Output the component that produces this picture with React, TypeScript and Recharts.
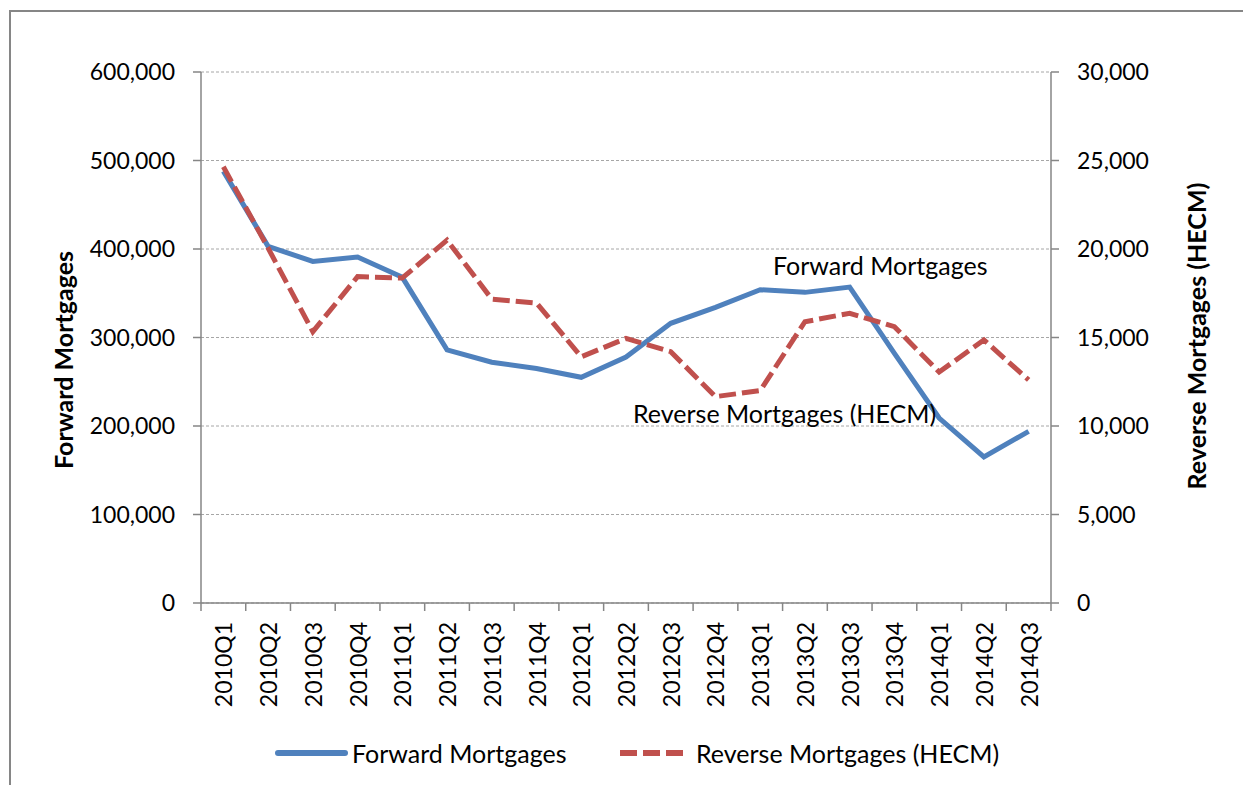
import React from 'react';
import { LineChart, Line, XAxis, YAxis, CartesianGrid, Legend } from 'recharts';

const quarters = [
  '2010Q1', '2010Q2', '2010Q3', '2010Q4',
  '2011Q1', '2011Q2', '2011Q3', '2011Q4',
  '2012Q1', '2012Q2', '2012Q3', '2012Q4',
  '2013Q1', '2013Q2', '2013Q3', '2013Q4',
  '2014Q1', '2014Q2', '2014Q3',
];

const forwardMortgages = [
  488000, 403000, 386000, 391000,
  368000, 286000, 272000, 265000,
  255000, 278000, 316000, 334000,
  354000, 351000, 357000, 282000,
  209000, 165000, 194000,
];

const reverseMortgages = [
  24650, 20050, 15330, 18440,
  18360, 20500, 17170, 16950,
  13910, 14950, 14200, 11660,
  12000, 15890, 16370, 15610,
  13050, 14860, 12600,
];

const leftTicks = [0, 100000, 200000, 300000, 400000, 500000, 600000];
const rightTicks = [0, 5000, 10000, 15000, 20000, 25000, 30000];

const data = quarters.map((q, i) => ({
  quarter: q,
  forward: forwardMortgages[i],
  reverse: reverseMortgages[i],
}));

const FONT = 'Lato, "Open Sans", sans-serif';
const BLUE = '#4f81bd';
const RED = '#c0504d';
const AXIS = '#868686';

const W = 1243;
const H = 785;
const PLOT_LEFT = 201;
const PLOT_RIGHT = 1051;
const PLOT_TOP = 72;
const PLOT_BOTTOM = 603;
const BAND = (PLOT_RIGHT - PLOT_LEFT) / quarters.length;

const fmt = (v: number) => v.toLocaleString('en-US');

// Excel puts the category ticks between the categories, not on them
const QuarterTick = ({ x, y, payload, index }: any) => {
  const lx = x - BAND / 2;
  return (
    <g>
      <line x1={lx} y1={y} x2={lx} y2={y + 8} stroke={AXIS} strokeWidth={1.5} />
      {index === quarters.length - 1 && (
        <line x1={x + BAND / 2} y1={y} x2={x + BAND / 2} y2={y + 8} stroke={AXIS} strokeWidth={1.5} />
      )}
      <text
        x={x}
        y={y + 19}
        transform={`rotate(-90, ${x}, ${y + 19})`}
        textAnchor="end"
        dominantBaseline="central"
        fill="#000"
        fontSize={23}
        fontFamily={FONT}
      >
        {payload.value}
      </text>
    </g>
  );
};

const LegendContent = () => (
  <div style={{ position: 'relative', width: W, height: 40, fontFamily: FONT, fontSize: 25 }}>
    <svg style={{ position: 'absolute', left: 0, top: 0 }} width={W} height={40}>
      <line x1={278} y1={20} x2={345} y2={20} stroke={BLUE} strokeWidth={6} strokeLinecap="round" />
      <line x1={620} y1={20} x2={684} y2={20} stroke={RED} strokeWidth={6} strokeDasharray="17 6" />
    </svg>
    <span style={{ position: 'absolute', left: 352, top: 20, transform: 'translateY(-50%)', whiteSpace: 'nowrap' }}>
      Forward Mortgages
    </span>
    <span style={{ position: 'absolute', left: 696, top: 20, transform: 'translateY(-50%)', whiteSpace: 'nowrap' }}>
      Reverse Mortgages (HECM)
    </span>
  </div>
);

const textStyle: React.CSSProperties = {
  position: 'absolute',
  fontFamily: FONT,
  fontSize: 25,
  color: '#000',
  whiteSpace: 'nowrap',
};

const App = () => {
  return (
    <div style={{ position: 'absolute', left: 0, top: 0, width: W, height: H, background: '#fff', overflow: 'hidden' }}>
      {/* chart frame, only its left and top edges fall inside the picture */}
      <div style={{ position: 'absolute', left: 9, top: 10, width: 1400, height: 1000, border: `2px solid ${AXIS}` }} />
      <div style={{ position: 'absolute', left: 0, top: 0 }}>
        <LineChart width={W} height={H} data={data} margin={{ top: PLOT_TOP, right: 0, bottom: 0, left: 0 }}>
          <CartesianGrid yAxisId="left" vertical={false} stroke="#a6a6a6" strokeDasharray="3 2" />
          <XAxis
            dataKey="quarter"
            height={H - PLOT_BOTTOM}
            padding={{ left: BAND / 2, right: BAND / 2 }}
            stroke={AXIS}
            strokeWidth={1.5}
            tickLine={false}
            tickSize={0}
            tickMargin={0}
            interval={0}
            tick={<QuarterTick />}
          />
          <YAxis
            yAxisId="left"
            width={PLOT_LEFT}
            domain={[0, 600000]}
            ticks={leftTicks}
            tickFormatter={fmt}
            stroke={AXIS}
            strokeWidth={1.5}
            tickSize={8}
            tickMargin={18}
            tick={{ fill: '#000', fontSize: 23, fontFamily: FONT }}
          />
          <YAxis
            yAxisId="right"
            orientation="right"
            width={W - PLOT_RIGHT}
            domain={[0, 30000]}
            ticks={rightTicks}
            tickFormatter={fmt}
            stroke={AXIS}
            strokeWidth={1.5}
            tickSize={8}
            tickMargin={18}
            tick={{ fill: '#000', fontSize: 23, fontFamily: FONT, textAnchor: 'start' }}
          />
          <Legend
            layout="horizontal"
            verticalAlign="middle"
            align="center"
            wrapperStyle={{ top: 733, left: 0, width: W }}
            content={<LegendContent />}
          />
          <Line
            yAxisId="left"
            dataKey="forward"
            name="Forward Mortgages"
            stroke={BLUE}
            strokeWidth={5}
            dot={false}
            activeDot={false}
            isAnimationActive={false}
          />
          <Line
            yAxisId="right"
            dataKey="reverse"
            name="Reverse Mortgages (HECM)"
            stroke={RED}
            strokeWidth={5}
            strokeDasharray="17 6"
            dot={false}
            activeDot={false}
            isAnimationActive={false}
          />
        </LineChart>
      </div>
      {/* axis titles */}
      <div style={{ ...textStyle, fontWeight: 700, left: 63, top: 360, transform: 'translate(-50%, -50%) rotate(-90deg)' }}>
        Forward Mortgages
      </div>
      <div style={{ ...textStyle, fontWeight: 700, left: 1196, top: 336, transform: 'translate(-50%, -50%) rotate(-90deg)' }}>
        Reverse Mortgages (HECM)
      </div>
      {/* in-plot series labels */}
      <div style={{ ...textStyle, left: 773, top: 265, transform: 'translateY(-50%)' }}>Forward Mortgages</div>
      <div style={{ ...textStyle, left: 633, top: 413, transform: 'translateY(-50%)' }}>Reverse Mortgages (HECM)</div>
    </div>
  );
};

export default App;
